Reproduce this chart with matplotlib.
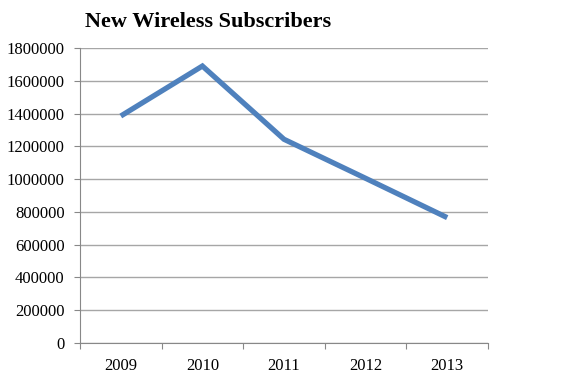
import matplotlib
matplotlib.use("Agg")
import matplotlib.pyplot as plt
import numpy as np

# Données
annees = ["2009", "2010", "2011", "2012", "2013"]
abonnes = [1385000, 1690000, 1243000, 1005000, 765000]
graduations = [0, 200000, 400000, 600000, 800000, 1000000, 1200000, 1400000, 1600000, 1800000]

plt.rcParams["font.family"] = ["Liberation Serif", "DejaVu Serif"]

fig = plt.figure(figsize=(5.8, 3.8), dpi=100)
ax = fig.add_axes([80 / 580, 1 - 343 / 380, 408 / 580, 295 / 380])

x = np.arange(len(annees))
ax.plot(x, abonnes, color="#4f81bd", lw=3.8, solid_capstyle="butt", solid_joinstyle="miter", zorder=3)

ax.set_xlim(-0.5, len(annees) - 0.5)
ax.set_ylim(0, 1800000)
ax.set_yticks(graduations)
ax.set_yticklabels([str(g) for g in graduations], fontsize=12)

# graduations aux bords des catégories, étiquettes au centre
ax.set_xticks(np.arange(-0.5, len(annees), 1.0))
ax.set_xticklabels([])
ax.set_xticks(x, minor=True)
ax.set_xticklabels(annees, minor=True, fontsize=12)
ax.tick_params(axis="x", which="minor", length=0, pad=11)
ax.tick_params(axis="x", which="major", length=4, color="#888888", direction="out")
ax.tick_params(axis="y", length=4, color="#888888", pad=7)

ax.grid(axis="y", color="#a6a6a6", lw=1)
ax.set_axisbelow(True)
for s in ["top", "right"]:
    ax.spines[s].set_visible(False)
for s in ["left", "bottom"]:
    ax.spines[s].set_color("#888888")

fig.text(85 / 580, 1 - 22 / 380, "New Wireless Subscribers", fontsize=16, fontweight="bold",
         va="center", ha="left")

fig.savefig("out.png", dpi=100)
